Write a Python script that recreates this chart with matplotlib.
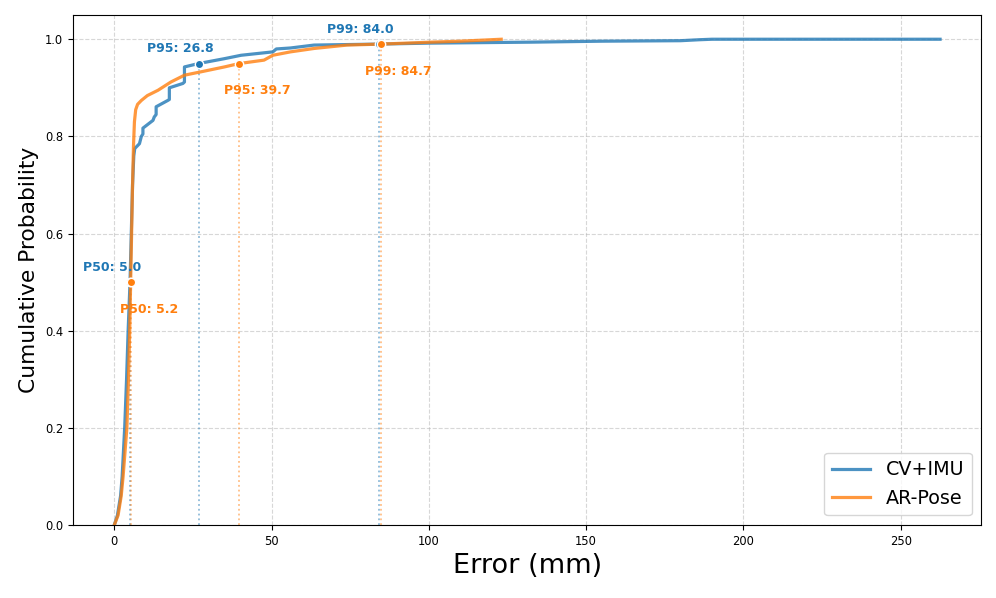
import matplotlib
matplotlib.use("Agg")
import matplotlib.pyplot as plt

# CDF curves (error in mm, cumulative probability)
cv_err = [0, 1.0, 2.0, 2.5, 3.3, 3.9, 4.4, 5.0, 5.4, 5.8, 6.2, 6.5, 8.0, 8.6, 9.1, 9.1,
          12.3, 12.7, 13.3, 13.3, 17.0, 17.5, 17.5, 21.8, 22.3, 22.3, 26.8, 35.0, 40.3,
          50.4, 51.5, 56.0, 63.5, 84.0, 100.0, 132.5, 155.0, 180.0, 186.0, 190.0, 262.5]
cv_cdf = [0, 0.02, 0.06, 0.10, 0.20, 0.30, 0.40, 0.50, 0.60, 0.70, 0.76, 0.775, 0.785, 0.80,
          0.805, 0.817, 0.833, 0.84, 0.845, 0.861, 0.874, 0.876, 0.90, 0.909, 0.912, 0.943,
          0.95, 0.96, 0.967, 0.974, 0.98, 0.982, 0.988, 0.99, 0.992, 0.994, 0.996, 0.997,
          0.999, 1.0, 1.0]

ar_err = [0, 1.2, 2.2, 2.8, 4.0, 4.5, 4.9, 5.2, 5.5, 5.8, 6.1, 6.4, 6.8, 7.4, 8.6, 10.5,
          13.9, 18.0, 22.3, 27.6, 35.0, 39.7, 47.6, 50.4, 56.0, 63.5, 74.0, 84.7, 100.7,
          110.0, 123.0]
ar_cdf = [0, 0.02, 0.06, 0.10, 0.20, 0.30, 0.40, 0.50, 0.60, 0.70, 0.78, 0.83, 0.855, 0.866,
          0.874, 0.884, 0.895, 0.912, 0.926, 0.933, 0.943, 0.95, 0.957, 0.967, 0.974, 0.981,
          0.988, 0.99, 0.994, 0.996, 1.0]

pct_levels = [0.50, 0.95, 0.99]
pct_names = ["P50", "P95", "P99"]
cv_pct = [5.0, 26.8, 84.0]
ar_pct = [5.2, 39.7, 84.7]

series = [
    ("CV+IMU", cv_err, cv_cdf, cv_pct, "#1f77b4", (-13, 10.5)),
    ("AR-Pose", ar_err, ar_cdf, ar_pct, "#ff7f0e", (13, -19.5)),
]

fig = plt.figure(figsize=(9.96, 5.98), dpi=100)
ax = fig.add_axes([0.0733, 0.122, 0.912, 0.853])

for name, err, cdf, pct, color, off in series:
    ax.plot(err, cdf, color=color, lw=2.3, alpha=0.8, label=name, zorder=3)

for name, err, cdf, pct, color, off in series:
    for lvl, pname, val in zip(pct_levels, pct_names, pct):
        ax.vlines(val, 0, lvl, colors=color, linestyles=":", lw=1.3, alpha=0.5, zorder=2)
        ax.plot(val, lvl, "o", color=color, ms=6, mec="white", mew=1, zorder=4)
        ax.annotate(f"{pname}: {val:.1f}", (val, lvl), xytext=off, textcoords="offset points",
                    ha="center", va="center", color=color, fontsize=9,
                    fontweight="bold", zorder=5)

ax.set_ylim(0, 1.05)
ax.set_xlabel("Error (mm)", fontsize=19.5)
ax.set_ylabel("Cumulative Probability", fontsize=15.7)
ax.tick_params(labelsize=8.3)
ax.grid(True, ls="--", alpha=0.5, color="#b0b0b0")
ax.legend(loc="lower right", fontsize=13.8)

fig.savefig("out.png", dpi=100)
